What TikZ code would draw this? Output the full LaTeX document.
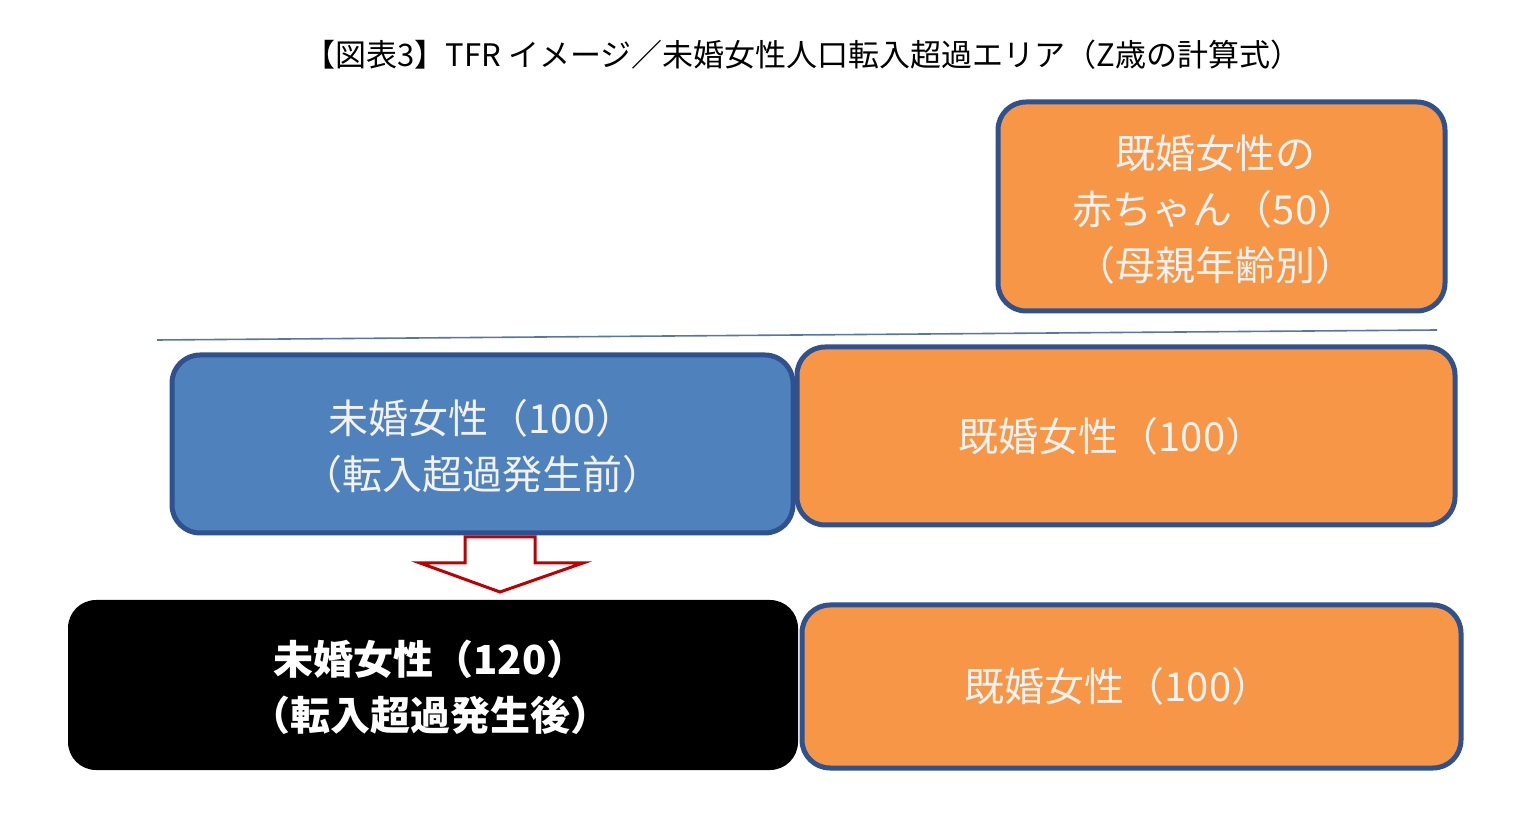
\documentclass[tikz,border=0pt]{standalone}
\usepackage{fontspec}
\setmainfont{Noto Sans CJK JP}
\definecolor{org}{HTML}{F79646}
\definecolor{bfill}{HTML}{4F81BD}
\definecolor{bedge}{HTML}{2F528F}
\definecolor{txt}{HTML}{F2F2F2}
\begin{document}
\begin{tikzpicture}[x=0.5pt,y=-0.5pt]
\tikzset{
 box/.style={draw=bedge,line width=2.5pt,rounded corners=14pt,inner sep=0pt},
 obox/.style={box,fill=org},
 btxt/.style={text=txt,font=\fontsize{20}{28}\selectfont,align=center},
}
\useasboundingbox (0,0) rectangle (1533,823);
\node[font=\fontsize{15.5}{18}\selectfont] (title) at (803,55) {【図表3】TFR イメージ／未婚女性人口転入超過エリア（Z歳の計算式）};
\draw[obox] (998,102) rectangle (1445,311);
\node[btxt] (baby) at (1215,210) {既婚女性の\\赤ちゃん（50）\\（母親年齢別）};
\coordinate (l1) at (157,340); \coordinate (l2) at (1437,330);
\draw[bedge!80,line width=0.8pt] (l1) -- (l2);
\draw[box,fill=bfill] (172,355) rectangle (793,533);
\node[btxt] (m1) at (482,446) {未婚女性（100）\\（転入超過発生前）};
\draw[obox] (797,347) rectangle (1455,525);
\node[btxt] (k1) at (1112,436) {既婚女性（100）};
\draw[red!75!black,fill=white,line width=1.5pt] (465,537) -- (535,537) -- (535,563) -- (583,563) -- (500,592) -- (420,563) -- (465,563) -- cycle;
\fill[black,rounded corners=14pt] (68,600) rectangle (798,770);
\node[btxt,text=white] (m2) at (430,687) {\bfseries 未婚女性（120）\\\bfseries （転入超過発生後）};
\draw[obox] (802,605) rectangle (1461,768);
\node[btxt] (k2) at (1118,686) {既婚女性（100）};
\end{tikzpicture}
\end{document}
